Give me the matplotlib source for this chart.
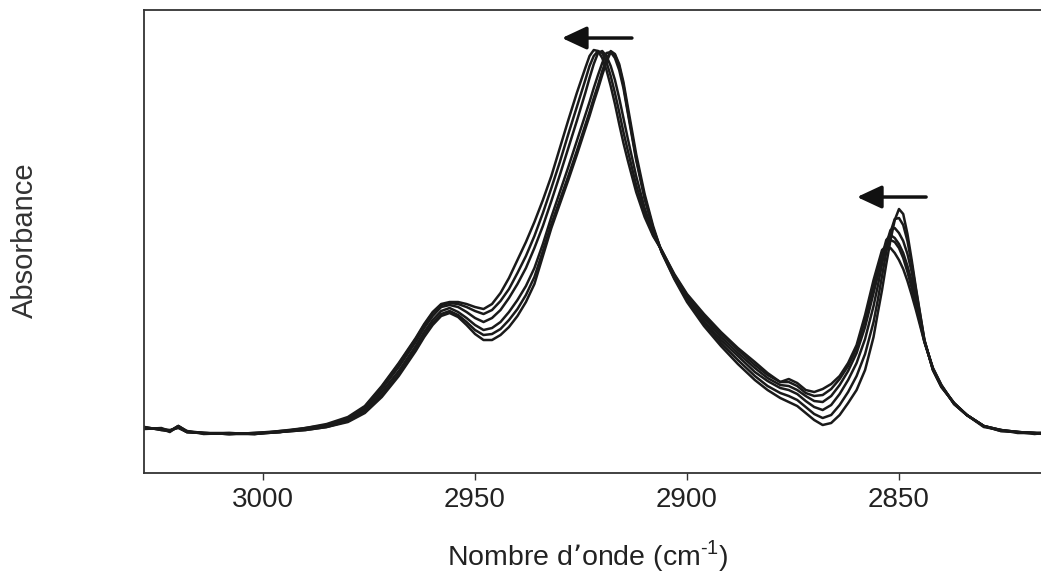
import numpy as np
import matplotlib.pyplot as plt

plt.rcParams['font.family'] = ['Liberation Sans', 'DejaVu Sans']

# wavenumber grid (cm-1)
wavenumber = [3028, 3024, 3022, 3020, 3018, 3014, 3008, 3002, 2996, 2990,
              2985, 2980, 2976, 2972, 2968, 2964, 2962, 2960, 2958, 2956,
              2954, 2952, 2950, 2948, 2946, 2944, 2942, 2940, 2938, 2936,
              2934, 2932, 2930, 2928, 2926, 2924, 2923, 2922, 2921, 2920,
              2919, 2918, 2917, 2916, 2915, 2914, 2912, 2910, 2908, 2906,
              2903, 2900, 2896, 2892, 2888, 2884, 2881, 2878, 2876, 2874,
              2872, 2870, 2868, 2866, 2864, 2862, 2860, 2858, 2856, 2855,
              2854, 2853, 2852, 2851, 2850, 2849, 2848, 2847, 2846, 2844,
              2842, 2840, 2837, 2834, 2830, 2826, 2822, 2818, 2816]

# absorbance (milli-units, arbitrary), six spectra
spec1 = [45, 44, 42, 47, 41, 40, 39, 39, 41, 43, 46, 51, 60, 76, 97, 122, 136, 148, 157, 160,
         156, 148, 139, 133, 133, 138, 146, 157, 171, 189, 217, 245, 269, 293, 318, 344, 357, 371, 384, 398,
         411, 421, 418, 407, 388, 363, 315, 276, 245, 221, 194, 171, 147, 127, 109, 93, 83, 75, 71, 67,
         60, 53, 48, 50, 58, 70, 83, 103, 136, 160, 183, 209, 233, 253, 264, 259, 239, 213, 185, 133,
         103, 86, 70, 58, 47, 43, 41, 40, 40]
spec2 = [46, 43, 42, 46, 41, 40, 39, 40, 41, 43, 46, 52, 61, 78, 99, 124, 138, 150, 159, 162,
         158, 151, 143, 138, 139, 144, 153, 164, 178, 196, 222, 249, 273, 297, 322, 348, 361, 375, 388, 402,
         414, 422, 419, 409, 391, 367, 319, 279, 247, 221, 195, 173, 150, 130, 113, 97, 87, 80, 77, 73,
         66, 59, 55, 58, 68, 81, 97, 119, 151, 173, 197, 221, 241, 254, 255, 248, 232, 209, 183, 133,
         103, 86, 70, 58, 47, 42, 41, 40, 39]
spec3 = [45, 44, 41, 47, 42, 39, 40, 39, 41, 44, 47, 53, 63, 81, 102, 127, 141, 153, 162, 165,
         161, 155, 148, 143, 145, 151, 161, 173, 187, 205, 229, 256, 281, 306, 332, 358, 371, 385, 398, 410,
         420, 421, 415, 403, 385, 361, 313, 274, 244, 222, 196, 174, 152, 133, 117, 101, 92, 85, 83, 79,
         72, 66, 63, 68, 79, 93, 110, 134, 167, 187, 209, 229, 243, 245, 240, 232, 219, 201, 178, 132,
         104, 87, 70, 58, 46, 43, 40, 40, 40]
spec4 = [44, 45, 42, 46, 41, 40, 39, 40, 42, 44, 48, 54, 65, 84, 106, 131, 145, 157, 166, 168,
         166, 161, 155, 151, 155, 163, 175, 189, 205, 225, 247, 272, 298, 325, 352, 380, 395, 409, 420, 422,
         417, 407, 393, 375, 355, 335, 297, 265, 240, 222, 197, 176, 155, 136, 120, 105, 95, 88, 87, 83,
         77, 72, 71, 77, 88, 102, 120, 146, 180, 197, 217, 233, 238, 235, 229, 220, 207, 192, 173, 132,
         104, 87, 69, 58, 47, 43, 41, 39, 40]
spec5 = [45, 44, 43, 45, 41, 40, 39, 40, 41, 45, 48, 55, 66, 86, 109, 134, 148, 160, 168, 170,
         169, 166, 162, 159, 163, 172, 184, 200, 217, 237, 260, 285, 311, 339, 366, 393, 407, 417, 422, 420,
         411, 397, 380, 361, 341, 323, 288, 260, 238, 223, 198, 178, 157, 139, 123, 108, 98, 91, 91, 87,
         80, 77, 78, 84, 94, 107, 125, 153, 187, 202, 219, 229, 233, 231, 225, 215, 201, 185, 168, 131,
         105, 88, 69, 58, 47, 42, 41, 40, 39]
spec6 = [46, 43, 42, 47, 42, 40, 40, 39, 42, 45, 49, 56, 67, 87, 110, 135, 149, 161, 169, 171,
         171, 169, 166, 164, 169, 180, 195, 213, 231, 251, 273, 297, 325, 353, 380, 405, 417, 423, 422, 415,
         403, 387, 369, 349, 330, 313, 281, 256, 237, 223, 199, 179, 159, 141, 125, 111, 100, 91, 94, 90,
         83, 81, 84, 89, 97, 110, 128, 158, 193, 208, 223, 227, 225, 220, 213, 204, 192, 178, 163, 131,
         105, 88, 69, 58, 47, 43, 41, 40, 40]

spectra = [spec1, spec2, spec3, spec4, spec5, spec6]
xticks = [3000, 2950, 2900, 2850]

# arrows showing the band shift: (start x, end x, y)
arrows = [(2913.0, 2929.5, 435), (2843.6, 2859.9, 276)]

fig = plt.figure(figsize=(10.41, 5.73), dpi=100)
ax = fig.add_axes([0.1383, 0.1745, 0.8617, 0.808])

for s in spectra:
    ax.plot(wavenumber, s, color='#1a1a1a', lw=1.8, solid_joinstyle='round')

for x0, x1, y in arrows:
    ax.annotate('', xy=(x1, y), xytext=(x0, y),
                arrowprops=dict(arrowstyle='-|>,head_length=0.75,head_width=0.35',
                                lw=2.5, color='#111111', shrinkA=0, shrinkB=0,
                                mutation_scale=20))

ax.set_xlim(3028.1, 2816.5)
ax.set_ylim(0, 463)
ax.set_xticks(xticks)
ax.set_xticklabels([str(t) for t in xticks], fontsize=20, color='#222222')
ax.set_yticks([])
ax.tick_params(axis='x', length=5, width=1.0, pad=5, color='#333333')
for side in ['left', 'bottom', 'top']:
    ax.spines[side].set_color('#333333')
    ax.spines[side].set_linewidth(1.3)
ax.spines['right'].set_visible(False)

fig.text(588 / 1041, 1 - 565 / 573, 'Nombre d\u2019onde (cm$^{\\mathregular{\u20101}}$)',
         fontsize=20.5, ha='center', va='baseline', color='#222222')
fig.text(25 / 1041, 1 - 240 / 573, 'Absorbance', fontsize=21, rotation=90,
         ha='center', va='center', color='#333333')

fig.savefig('out.png', dpi=100)
